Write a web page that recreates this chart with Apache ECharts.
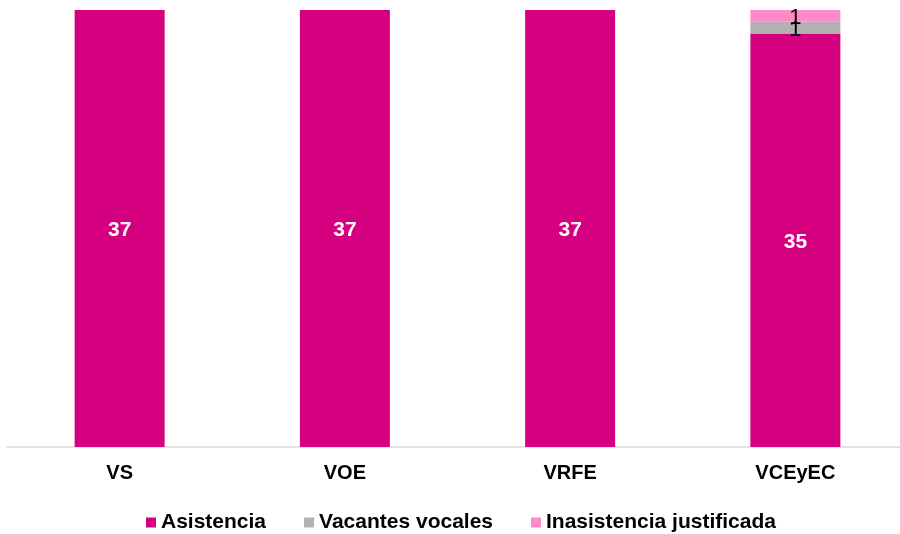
<!DOCTYPE html>
<html>
<head>
<meta charset="utf-8">
<script src="https://cdn.jsdelivr.net/npm/echarts@6/dist/echarts.min.js"></script>
<style>
  html, body { margin: 0; padding: 0; background: #fff; overflow: hidden; }
  #chart { width: 910px; height: 534px; }
</style>
</head>
<body>
<div id="chart"></div>
<script>
const categories = ['VS', 'VOE', 'VRFE', 'VCEyEC']
const asistencia = [37, 37, 37, 35]
const vacantes = [0, 0, 0, 1]
const inasistencia = [0, 0, 0, 1]

const font = '"Liberation Sans", Arial, sans-serif'

const chart = echarts.init(document.getElementById('chart'))

// etiqueta solo cuando hay valor
function smallLabel(color) {
  return {
    show: true,
    position: 'inside',
    offset: [0, 2],
    color: color,
    fontFamily: font,
    fontSize: 22,
    formatter: p => (p.value > 0 ? p.value : '')
  }
}

chart.setOption({
  animation: false,
  grid: { left: 7, top: 10, right: 2, bottom: 87, containLabel: false },
  xAxis: {
    type: 'category',
    data: categories,
    axisTick: { show: false },
    axisLine: { lineStyle: { color: '#d9d9d9', width: 1.5 } },
    axisLabel: {
      color: '#000',
      fontFamily: font,
      fontWeight: 'bold',
      fontSize: 20,
      margin: 16
    }
  },
  yAxis: {
    type: 'value',
    min: 0,
    max: 37,
    show: false,
    splitLine: { show: false }
  },
  legend: {
    bottom: -4,
    left: 141,
    itemWidth: 10,
    itemHeight: 10,
    itemGap: 38,
    icon: 'rect',
    textStyle: {
      color: '#000',
      fontFamily: font,
      fontWeight: 'bold',
      fontSize: 21,
      padding: [0, 0, 0, 0]
    },
    data: ['Asistencia', 'Vacantes vocales', 'Inasistencia justificada']
  },
  series: [
    {
      name: 'Asistencia',
      type: 'bar',
      stack: 'total',
      barWidth: 90,
      data: asistencia,
      itemStyle: { color: '#D5007F' },
      label: {
        show: true,
        position: 'inside',
        offset: [0, 2],
        color: '#fff',
        fontFamily: font,
        fontWeight: 'bold',
        fontSize: 21
      }
    },
    {
      name: 'Vacantes vocales',
      type: 'bar',
      stack: 'total',
      data: vacantes,
      itemStyle: { color: '#B2B2B2' },
      label: smallLabel('#000')
    },
    {
      name: 'Inasistencia justificada',
      type: 'bar',
      stack: 'total',
      data: inasistencia,
      itemStyle: { color: '#FF8AC8' },
      label: smallLabel('#000')
    }
  ]
})
</script>
</body>
</html>
